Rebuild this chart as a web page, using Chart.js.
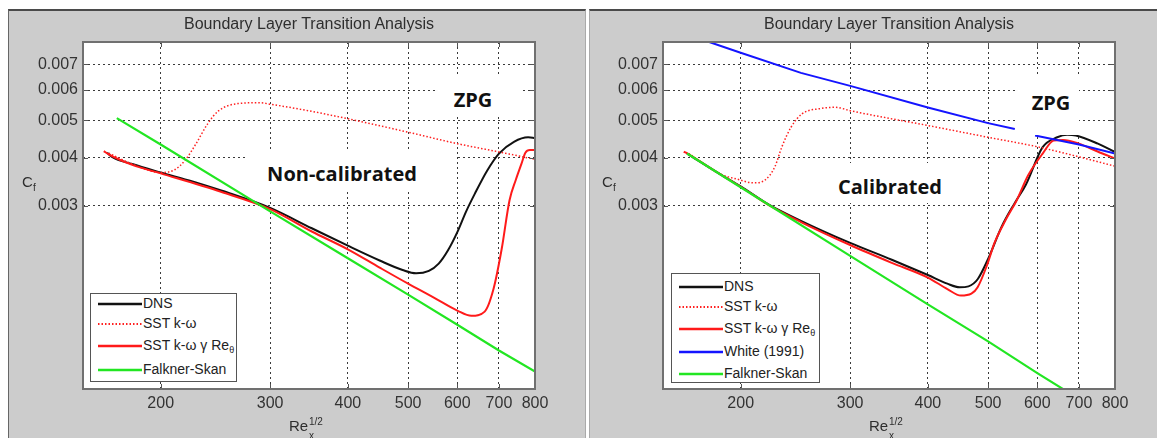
<!DOCTYPE html>
<html>
<head>
<meta charset="utf-8">
<script src="https://cdn.jsdelivr.net/npm/chart.js@4/dist/chart.umd.min.js"></script>
<style>
  body { margin: 0; width: 1157px; height: 438px; position: relative; overflow: hidden; background: #fff;
         font-family: "Liberation Sans", Arial, sans-serif; color: #333; }
  .panel { position: absolute; top: 9px; height: 429px; background: #cccccc; border-top: 2px solid #4a4a4a; box-sizing: border-box; }
  #panelL { left: 8px; width: 578px; border-left: 1px solid #666; border-right: 1px solid #aaa; }
  #panelR { left: 589px; width: 568px; border-left: 1px solid #aaa; }
  .chartBox { position: absolute; top: 10px; height: 428px; }
  .title { position: absolute; font-size: 16px; line-height: 16px; transform: translate(-50%, -50%); white-space: nowrap; color: #2e2e2e; }
  .note { position: absolute; background: #fff; }
  .noteText { position: absolute; font-family: "Open Sans", sans-serif; font-weight: 700; font-size: 20px; line-height: 20px;
              transform: translate(-50%, -50%); white-space: nowrap; color: #111; }
  .axisT { position: absolute; font-size: 15px; line-height: 15px; white-space: nowrap; color: #2e2e2e; }
  .axisT .small { position: absolute; font-size: 10px; line-height: 10px; }
  .legend { position: absolute; background: #fff; border: 1px solid #555; box-sizing: border-box; }
  .legItem { position: absolute; left: 0; height: 0; }
  .legItem svg { position: absolute; left: 7px; top: -2px; }
  .legItem span { position: absolute; left: 52px; top: -8px; font-size: 14px; line-height: 15px; white-space: nowrap; color: #222; }
  .legItem sub { font-size: 9px; vertical-align: -3px; }
</style>
</head>
<body>
<div class="panel" id="panelL"></div>
<div class="panel" id="panelR"></div>

<div class="chartBox" style="left:8px;width:578px"><canvas id="chartNonCal" width="578" height="428"></canvas></div>
<div class="chartBox" style="left:589px;width:568px"><canvas id="chartCal" width="568" height="428"></canvas></div>

<div class="title" style="left:309px;top:24px">Boundary Layer Transition Analysis</div>
<div class="title" style="left:889px;top:24px">Boundary Layer Transition Analysis</div>

<!-- text boxes with white background (they hide the lines under them) -->
<div class="note" style="left:435px;top:75px;width:85px;height:42px"></div>
<div class="noteText" style="left:473px;top:100px">ZPG</div>
<div class="note" style="left:248px;top:150px;width:207px;height:40px"></div>
<div class="noteText" style="left:342px;top:174px">Non-calibrated</div>
<div class="note" style="left:1015px;top:75px;width:64px;height:60px"></div>
<div class="noteText" style="left:1051px;top:103px">ZPG</div>
<div class="note" style="left:822px;top:163px;width:138px;height:40px"></div>
<div class="noteText" style="left:890px;top:187px">Calibrated</div>

<!-- axis titles -->
<div class="axisT" style="left:22px;top:174px">C<span class="small" style="left:11px;top:9px">f</span></div>
<div class="axisT" style="left:602px;top:174px">C<span class="small" style="left:11px;top:9px">f</span></div>
<div class="axisT" style="left:289px;top:418px">Re<span class="small" style="left:20px;top:-1px">1/2</span><span class="small" style="left:20px;top:13px">x</span></div>
<div class="axisT" style="left:869px;top:418px">Re<span class="small" style="left:20px;top:-1px">1/2</span><span class="small" style="left:20px;top:13px">x</span></div>

<div class="legend" id="legendNonCal" style="left:90px;top:293px;width:147px;height:89px"></div>
<div class="legend" id="legendCal" style="left:671px;top:273px;width:149px;height:110px"></div>

<script>
document.addEventListener('DOMContentLoaded', () => {

    // --- axis ticks ---
    const xTicks = [200, 300, 400, 500, 600, 700, 800];
    const yTicks = [0.003, 0.004, 0.005, 0.006, 0.007];

    // --- Non-calibrated (left) ---
    const dnsNcX = [164, 167, 180, 200, 225, 251, 300, 350, 400, 450, 490, 515, 540, 560, 580, 600, 620, 640, 670, 700, 740, 780, 800];
    const dnsNcY = [0.00412, 0.00402, 0.00385, 0.00366, 0.00347, 0.00328, 0.00296, 0.00262, 0.00236, 0.00216, 0.00204, 0.00200, 0.00203, 0.00212, 0.0023, 0.00256, 0.0029, 0.00322, 0.0037, 0.0041, 0.0044, 0.00452, 0.0045];

    const sstNcX = [165, 180, 200, 210, 219, 228, 238, 248, 266, 288, 300, 350, 400, 500, 600, 700, 800];
    const sstNcY = [0.00411, 0.00385, 0.00366, 0.00371, 0.00394, 0.00435, 0.0049, 0.0053, 0.00553, 0.00556, 0.00551, 0.00528, 0.00505, 0.00466, 0.00435, 0.00414, 0.00396];

    const gammaNcX = [162, 165, 180, 200, 250, 300, 350, 400, 450, 500, 550, 600, 632, 664, 686, 707, 728, 745, 761, 772, 785, 800];
    const gammaNcY = [0.00416, 0.00408, 0.00383, 0.00364, 0.00326, 0.00294, 0.00257, 0.00231, 0.00207, 0.00188, 0.00173, 0.0016, 0.00155, 0.00159, 0.00182, 0.00231, 0.0031, 0.0035, 0.00386, 0.00412, 0.00419, 0.00419];

    const fsNcX = [170, 200, 300, 400, 500, 600, 700, 800];
    const fsNcY = [0.00507, 0.00433, 0.0029, 0.00219, 0.00176, 0.00147, 0.00126, 0.00111];

    // --- Calibrated (right) ---
    const dnsCalX = [164, 185, 200, 222, 250, 300, 350, 400, 430, 450, 465, 481, 500, 526, 552, 575, 612, 646, 670, 692, 751, 800];
    const dnsCalY = [0.0041, 0.00363, 0.00337, 0.00302, 0.00274, 0.0024, 0.00217, 0.00198, 0.00188, 0.00184, 0.00185, 0.00193, 0.00218, 0.00265, 0.00305, 0.0034, 0.00426, 0.00452, 0.00459, 0.00457, 0.00435, 0.00414];

    const sstCalX = [165, 185, 197, 210, 219, 227, 233, 241, 251, 269, 284, 300, 400, 500, 600, 700, 800];
    const sstCalY = [0.0041, 0.00363, 0.00352, 0.00344, 0.0035, 0.00379, 0.00427, 0.0048, 0.0052, 0.00537, 0.00541, 0.0053, 0.00485, 0.00452, 0.00427, 0.00402, 0.0038];

    const gammaCalX = [162, 165, 185, 200, 222, 250, 300, 350, 400, 430, 452, 470, 481, 498, 512, 534, 556, 580, 612, 637, 660, 700, 750, 800];
    const gammaCalY = [0.00415, 0.00408, 0.00363, 0.00336, 0.00301, 0.00272, 0.00237, 0.00213, 0.00195, 0.00182, 0.00175, 0.00177, 0.00184, 0.0021, 0.0024, 0.00276, 0.0031, 0.0036, 0.0041, 0.00443, 0.00445, 0.00435, 0.00415, 0.00398];

    const whiteCalX = [178, 200, 250, 300, 400, 500, 552, 575, 595, 700, 800];
    const whiteCalY = [0.0080, 0.0075, 0.00665, 0.00615, 0.0054, 0.00492, 0.00475, null, 0.00457, 0.00433, 0.0041];

    const fsCalX = [164, 200, 300, 400, 500, 600, 680];
    const fsCalY = [0.0041, 0.00335, 0.00222, 0.00166, 0.00133, 0.0011, 0.00097];

    // --- series styles ---
    const seriesStyle = {
        dns:     { label: 'DNS', borderColor: '#111111', borderWidth: 2, order: 5, cubicInterpolationMode: 'monotone' },
        sst:     { label: 'SST k-ω', borderColor: '#ff2020', borderWidth: 1.5, borderDash: [1.5, 2], order: 4, cubicInterpolationMode: 'monotone' },
        gamma:   { label: 'SST k-ω γ Re<sub>θ</sub>', borderColor: '#ff1a1a', borderWidth: 2, order: 3, cubicInterpolationMode: 'monotone' },
        white:   { label: 'White (1991)', borderColor: '#1414ff', borderWidth: 2, order: 2 },
        falkner: { label: 'Falkner-Skan', borderColor: '#22e622', borderWidth: 2.2, order: 1 }
    };

    const toPoints = (xs, ys) => xs.map((x, i) => ({ x: x, y: ys[i] }));

    const makeDataset = (style, xs, ys) => ({
        ...style,
        data: toPoints(xs, ys),
        pointRadius: 0,
        fill: false,
        spanGaps: false
    });

    // --- frame, white plot area, small inner tick marks ---
    const plotFrame = {
        id: 'plotFrame',
        beforeDraw(chart) {
            const { ctx, chartArea: a } = chart;
            ctx.save();
            ctx.fillStyle = '#ffffff';
            ctx.fillRect(a.left, a.top, a.right - a.left, a.bottom - a.top);
            ctx.restore();
        },
        afterDraw(chart) {
            const { ctx, chartArea: a, scales } = chart;
            ctx.save();
            ctx.strokeStyle = '#555';
            ctx.lineWidth = 1;
            ctx.beginPath();
            xTicks.forEach(v => {
                const px = Math.round(scales.x.getPixelForValue(v)) + 0.5;
                ctx.moveTo(px, a.bottom); ctx.lineTo(px, a.bottom - 5);
                ctx.moveTo(px, a.top); ctx.lineTo(px, a.top + 5);
            });
            yTicks.forEach(v => {
                const py = Math.round(scales.y.getPixelForValue(v)) + 0.5;
                ctx.moveTo(a.left, py); ctx.lineTo(a.left + 5, py);
                ctx.moveTo(a.right, py); ctx.lineTo(a.right - 5, py);
            });
            ctx.stroke();
            ctx.strokeStyle = '#707070';
            ctx.lineWidth = 2;
            ctx.strokeRect(a.left, a.top, a.right - a.left, a.bottom - a.top);
            ctx.restore();
        }
    };

    const tickFont = { family: "'Liberation Sans', Arial, sans-serif", size: 16 };

    function makeOptions(yAxisWidth, padRight) {
        return {
            responsive: false,
            animation: false,
            devicePixelRatio: 1,
            layout: { padding: { top: 32, right: padRight, left: 0, bottom: 0 } },
            plugins: { legend: { display: false }, tooltip: { enabled: false } },
            scales: {
                x: {
                    type: 'logarithmic',
                    min: 150,
                    max: 800,
                    afterBuildTicks: s => { s.ticks = xTicks.map(v => ({ value: v })); },
                    afterFit: s => { s.height = 49; },
                    ticks: { autoSkip: false, maxRotation: 0, padding: 5, color: '#333', font: tickFont, callback: v => String(v) },
                    grid: { color: '#3a3a3a', lineWidth: 1, drawTicks: false },
                    border: { display: false, dash: [2, 3] }
                },
                y: {
                    type: 'logarithmic',
                    min: 0.001,
                    max: 0.008,
                    afterBuildTicks: s => { s.ticks = yTicks.map(v => ({ value: v })); },
                    afterFit: s => { s.width = yAxisWidth; },
                    ticks: { autoSkip: false, padding: 5, color: '#333', font: tickFont, callback: v => Number(v).toFixed(3) },
                    grid: { color: '#3a3a3a', lineWidth: 1, drawTicks: false },
                    border: { display: false, dash: [2, 3] }
                }
            }
        };
    }

    const nonCalChart = new Chart(document.getElementById('chartNonCal').getContext('2d'), {
        type: 'line',
        data: {
            datasets: [
                makeDataset(seriesStyle.dns, dnsNcX, dnsNcY),
                makeDataset(seriesStyle.sst, sstNcX, sstNcY),
                makeDataset(seriesStyle.gamma, gammaNcX, gammaNcY),
                makeDataset(seriesStyle.falkner, fsNcX, fsNcY)
            ]
        },
        options: makeOptions(75, 51),
        plugins: [plotFrame]
    });

    const calChart = new Chart(document.getElementById('chartCal').getContext('2d'), {
        type: 'line',
        data: {
            datasets: [
                makeDataset(seriesStyle.dns, dnsCalX, dnsCalY),
                makeDataset(seriesStyle.sst, sstCalX, sstCalY),
                makeDataset(seriesStyle.gamma, gammaCalX, gammaCalY),
                makeDataset(seriesStyle.white, whiteCalX, whiteCalY),
                makeDataset(seriesStyle.falkner, fsCalX, fsCalY)
            ]
        },
        options: makeOptions(74, 42),
        plugins: [plotFrame]
    });

    // --- legends (boxed, inside the axes) ---
    function buildLegend(chart, el, rowOffsets) {
        chart.data.datasets.forEach((ds, i) => {
            const item = document.createElement('div');
            item.className = 'legItem';
            item.style.top = rowOffsets[i] + 'px';
            const dash = ds.borderDash ? `stroke-dasharray="${ds.borderDash.join(' ')}"` : '';
            item.innerHTML = `<svg width="44" height="4"><line x1="0" y1="2" x2="44" y2="2" stroke="${ds.borderColor}" stroke-width="${ds.borderWidth + 0.5}" ${dash}/></svg><span>${ds.label}</span>`;
            el.appendChild(item);
        });
    }

    buildLegend(nonCalChart, document.getElementById('legendNonCal'), [10, 29.5, 52, 75.5]);
    buildLegend(calChart, document.getElementById('legendCal'), [12.5, 32.5, 55, 77.5, 99.5]);

});
</script>
</body>
</html>
